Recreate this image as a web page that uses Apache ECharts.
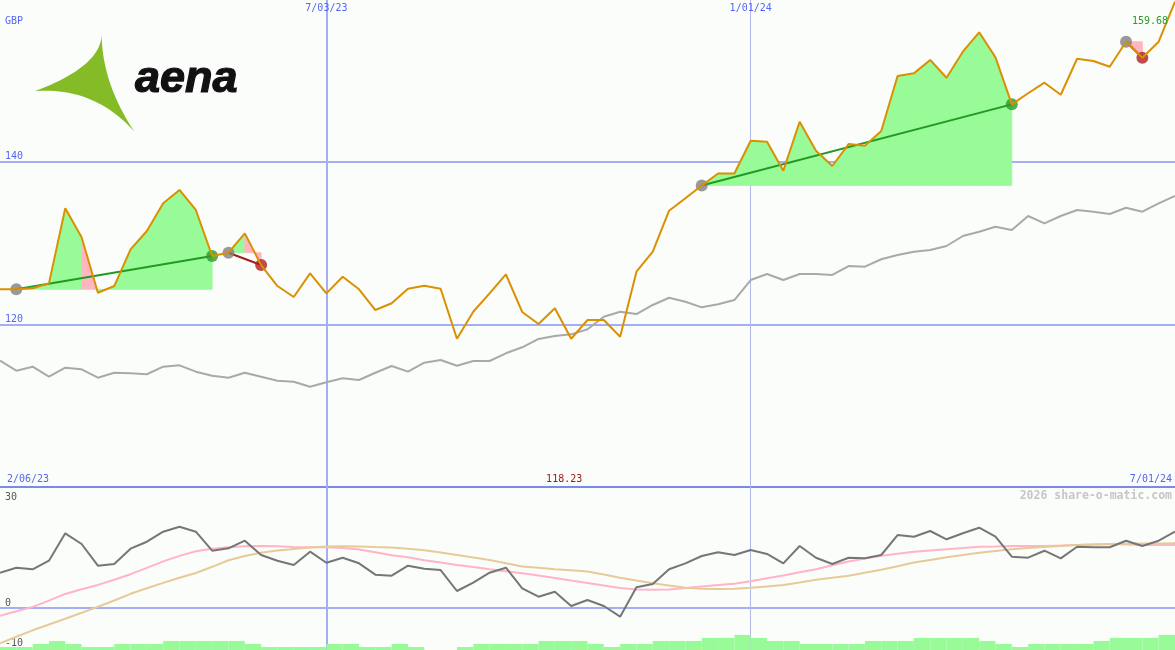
<!DOCTYPE html>
<html><head><meta charset="utf-8">
<script src="https://cdn.jsdelivr.net/npm/echarts@6/dist/echarts.min.js"></script>
<style>html,body{margin:0;padding:0;background:#fbfdfb;}#c{width:1175px;height:650px;}</style>
</head><body><div id="c"></div>
<script>
// ---- data (weekly, index 0..72) ----
const price = [124.31,124.31,124.43,125.04,134.27,130.70,123.89,124.71,129.22,131.48,
134.88,136.52,134.06,128.40,128.81,131.19,127.29,124.71,123.36,126.27,
123.81,125.86,124.31,121.76,122.59,124.38,124.75,124.38,118.23,121.55,
123.81,126.15,121.52,120.04,121.97,118.23,120.53,120.53,118.48,126.47,
128.93,133.97,135.50,137.07,138.54,138.54,142.58,142.45,138.89,144.91,
141.35,139.47,142.17,141.96,143.77,150.53,150.86,152.50,150.32,153.52,
155.91,152.83,147.05,148.41,149.71,148.23,152.66,152.38,151.68,154.75,
152.78,154.75,159.68];
const avg = [115.53,114.30,114.79,113.56,114.67,114.47,113.44,114.05,113.98,113.86,
114.79,114.96,114.18,113.68,113.44,114.05,113.56,113.07,112.95,112.33,
112.87,113.36,113.16,114.05,114.88,114.18,115.28,115.61,114.91,115.49,
115.49,116.44,117.18,118.20,118.57,118.77,119.39,120.94,121.55,121.27,
122.38,123.27,122.78,122.09,122.46,122.99,125.45,126.19,125.45,126.19,
126.19,126.07,127.17,127.09,128.00,128.52,128.93,129.14,129.63,130.86,
131.39,132.00,131.60,133.32,132.42,133.32,134.06,133.85,133.57,134.34,
133.85,134.88,135.78];
const osc = [9.72,11.11,10.67,13.06,20.67,17.69,11.67,12.14,16.39,18.33,
21.11,22.50,21.11,15.83,16.50,18.61,14.64,13.06,11.86,15.56,
12.50,13.89,12.33,9.17,8.89,11.67,10.83,10.47,4.64,6.94,
9.72,11.11,5.39,3.06,4.44,0.47,2.14,0.47,-2.50,5.67,
6.58,10.67,12.33,14.36,15.39,14.64,16.03,14.92,12.33,17.14,
13.89,12.14,13.89,13.72,14.64,20.19,19.72,21.31,19.00,20.67,
22.22,19.72,14.17,13.89,15.83,13.72,16.94,16.78,16.78,18.61,
17.14,18.61,21.11];
const oscPink = [-2.22,-1.00,0.22,1.97,3.83,5.11,6.33,7.78,9.31,11.06,
12.86,14.39,15.67,16.36,16.81,17.06,17.14,17.08,16.86,16.78,
16.78,16.61,16.14,15.39,14.58,14.00,13.19,12.53,11.86,11.28,
10.67,10.14,9.58,8.92,8.25,7.56,6.89,6.19,5.50,5.08,
4.97,5.08,5.47,5.89,6.28,6.67,7.33,8.17,8.97,9.83,
10.67,11.81,12.86,13.69,14.42,15.00,15.56,15.89,16.22,16.56,
16.94,17.03,17.14,17.14,17.14,17.25,17.39,17.53,17.67,17.58,
17.44,17.42,17.42];
const oscTan = [-9.89,-8.08,-6.28,-4.67,-3.08,-1.42,0.25,2.00,3.86,5.39,
6.89,8.31,9.64,11.36,13.19,14.36,15.25,15.86,16.33,16.69,
17.00,17.08,17.00,16.86,16.75,16.39,15.97,15.31,14.64,13.94,
13.25,12.36,11.42,11.11,10.69,10.39,10.06,9.25,8.33,7.53,
6.78,6.14,5.56,5.28,5.17,5.28,5.53,5.92,6.31,7.03,
7.78,8.31,8.89,9.72,10.56,11.53,12.53,13.28,14.00,14.61,
15.25,15.75,16.25,16.58,16.89,17.17,17.39,17.53,17.67,17.75,
17.81,17.83,17.89];
const volume = [1,1,2,3,2,1,1,2,2,2,
3,3,3,3,3,2,1,1,1,1,
2,2,1,1,2,1,0,0,1,2,
2,2,2,3,3,3,2,1,2,2,
3,3,3,4,4,5,4,3,3,2,
2,2,2,3,3,3,4,4,4,4,
3,2,1,2,2,2,2,3,4,4,
4,5];
const tradeEntry = [1, 14, 43, 69];
const tradeExit  = [13, 16, 62, 70];
const dateTickIdx = [20, 46];
const dateTickLabels = ['7/03/23', '1/01/24'];
const startLabel = '2/06/23';
const endLabel = '7/01/24';
const priceTicks = [120, 140];
const oscTicks = [30, 0, -10];
const currency = 'GBP';
const brand = 'aena';
const watermark = '2026 share-o-matic.com';

// ---- styles ----
const MONO = '"DejaVu Sans Mono", "Liberation Mono", monospace';
const GRID_C = '#a3aef5', SEP_C = '#7b89ec', LBL_C = '#5566ee', THIN_C = '#b2b9ea';
const GREEN_FILL = '#98fb98', PINK_FILL = '#ffb6c1';
const xMax = price.length - 1;

const chart = echarts.init(document.getElementById('c'), null, {width: 1175, height: 650});

const fillData = [];
const tradeSeries = [];
const entryPts = [], exitPts = [];
for (let t = 0; t < tradeEntry.length; t++) {
  const a = tradeEntry[t], b = tradeExit[t], base = price[a];
  for (let i = a; i < b; i++) fillData.push([i, price[i], i + 1, price[i + 1], base]);
  const win = price[b] >= base;
  tradeSeries.push({
    type: 'line', xAxisIndex: 0, yAxisIndex: 0, symbol: 'none', silent: true, z: 3,
    data: [[a, price[a]], [b, price[b]]],
    lineStyle: {color: win ? '#229a22' : '#a51c1c', width: 2}
  });
  entryPts.push([a, price[a]]);
  exitPts.push({value: [b, price[b]], itemStyle: {color: win ? '#2a9a2a' : '#b01e1e'}});
}
const idx = a => a.map((v, i) => [i, v]);

const vLineStyle = k => ({color: k === 0 ? GRID_C : THIN_C, width: k === 0 ? 2 : 1, type: 'solid'});
const oscLabelDist = {'30': -2.3, '0': -0.3, '-10': -4.3};

const option = {
  animation: false,
  backgroundColor: '#fbfdfb',
  grid: [
    {left: 0, right: 0, top: 0, height: 487},
    {left: 0, right: 0, top: 487, height: 163},
    {left: 0, right: 0, top: 487, height: 163}
  ],
  xAxis: [
    {type: 'value', gridIndex: 0, min: 0, max: xMax, show: true, position: 'bottom',
     axisLine: {show: true, onZero: false, lineStyle: {color: SEP_C, width: 2}},
     axisTick: {show: false}, axisLabel: {show: false}, splitLine: {show: false}},
    {type: 'value', gridIndex: 1, min: 0, max: xMax, show: false},
    {type: 'value', gridIndex: 2, min: 0, max: xMax, show: false}
  ],
  yAxis: [
    {type: 'value', gridIndex: 0, min: 100, max: 159.88, show: false},
    {type: 'value', gridIndex: 1, min: -11.75, max: 33.53, show: false},
    {type: 'value', gridIndex: 2, min: 0, max: 54, show: false}
  ],
  series: [
    {type: 'line', name: 'avg', xAxisIndex: 0, yAxisIndex: 0, data: idx(avg), symbol: 'none', silent: true, z: 2,
     lineStyle: {color: '#a9a9a9', width: 2},
     markLine: {
       z: 1, silent: true, symbol: 'none',
       label: {show: true, position: 'insideStartTop', distance: [5, 0], color: LBL_C, fontFamily: MONO, fontSize: 10,
               formatter: p => String(p.value)},
       lineStyle: {color: GRID_C, width: 2, type: 'solid'},
       data: priceTicks.map(v => ({yAxis: v}))
             .concat(dateTickIdx.map((d, k) => ({xAxis: d, label: {show: false}, lineStyle: vLineStyle(k)})))
     }},
    {type: 'custom', xAxisIndex: 0, yAxisIndex: 0, data: fillData, silent: true, z: 2,
     encode: {x: 0, y: 1},
     renderItem: (params, api) => {
       const p0 = api.coord([api.value(0), api.value(1)]);
       const p1 = api.coord([api.value(2), api.value(3)]);
       const p2 = api.coord([api.value(2), api.value(4)]);
       const p3 = api.coord([api.value(0), api.value(4)]);
       const c = api.value(3) >= api.value(4) ? GREEN_FILL : PINK_FILL;
       return {type: 'polygon', shape: {points: [p0, p1, p2, p3]},
               style: {fill: c, stroke: c, lineWidth: 0.8}};
     }},
    ...tradeSeries,
    {type: 'scatter', xAxisIndex: 0, yAxisIndex: 0, data: entryPts, symbolSize: 12, z: 3, silent: true,
     itemStyle: {color: '#808080'}},
    {type: 'scatter', xAxisIndex: 0, yAxisIndex: 0, data: exitPts, symbolSize: 12, z: 3, silent: true},
    {type: 'line', name: 'price', xAxisIndex: 0, yAxisIndex: 0, data: idx(price), symbol: 'none', silent: true, z: 4,
     lineStyle: {color: '#da9000', width: 2}},
    // lower panel
    {type: 'line', xAxisIndex: 1, yAxisIndex: 1, data: idx(oscPink), symbol: 'none', silent: true, z: 2,
     lineStyle: {color: '#ffb4c8', width: 2},
     markLine: {
       z: 1, silent: true, symbol: 'none',
       label: {show: true, position: 'insideStartTop', color: '#555555', fontFamily: MONO, fontSize: 10,
               formatter: p => String(p.value)},
       lineStyle: {color: GRID_C, width: 2, type: 'solid'},
       data: oscTicks.map(v => ({
               yAxis: v,
               label: {distance: [5, oscLabelDist[String(v)]]},
               lineStyle: v === 0 ? {color: GRID_C, width: 2} : {color: 'rgba(0,0,0,0)', width: 2}
             }))
             .concat(dateTickIdx.map((d, k) => ({xAxis: d, label: {show: false}, lineStyle: vLineStyle(k)})))
     }},
    {type: 'line', xAxisIndex: 1, yAxisIndex: 1, data: idx(oscTan), symbol: 'none', silent: true, z: 2,
     lineStyle: {color: '#e6cb98', width: 2}},
    {type: 'line', xAxisIndex: 1, yAxisIndex: 1, data: idx(osc), symbol: 'none', silent: true, z: 3,
     lineStyle: {color: '#767676', width: 2}},
    {type: 'custom', xAxisIndex: 2, yAxisIndex: 2, data: idx(volume), silent: true, z: 2,
     encode: {x: 0, y: 1},
     renderItem: (params, api) => {
       const i = api.value(0), v = api.value(1);
       const tl = api.coord([i, v]);
       const br = api.coord([i + 1, 0]);
       return {type: 'rect', shape: {x: tl[0], y: tl[1], width: br[0] - tl[0], height: br[1] - tl[1]},
               style: {fill: GREEN_FILL, stroke: null}};
     }}
  ]
};
chart.setOption(option);

// ---- labels placed through the axis scales ----
const xPix = v => chart.convertToPixel({xAxisIndex: 0}, v);
const minVal = Math.min(...price);
const minIdx = price.lastIndexOf(minVal);
const lastVal = price[price.length - 1];
const txt = (text, x, y, align, fill, font, extra) => ({
  type: 'text', x: x, y: y, silent: true, z: 10,
  style: Object.assign({text: text, fill: fill, font: font || ('10px ' + MONO), align: align, textAlign: align, verticalAlign: 'middle', textVerticalAlign: 'middle'}, extra || {})
});
const graphics = [];
dateTickIdx.forEach((d, k) => graphics.push(txt(dateTickLabels[k], xPix(d), 8, 'center', LBL_C)));
graphics.push(txt(currency, 5, 21, 'left', LBL_C));
graphics.push(txt(lastVal.toFixed(2), 1168, 21, 'right', '#2a9a2a'));
graphics.push(txt(startLabel, 7, 479, 'left', LBL_C));
graphics.push(txt(minVal.toFixed(2), xPix(minIdx) - 7, 479, 'center', '#a01818'));
graphics.push(txt(endLabel, 1172, 479, 'right', LBL_C));
graphics.push(txt(watermark, 1172, 496, 'right', '#c6c6c6', 'bold 11.5px ' + MONO));
// logo: curved triangle built from three quadratic curves
function quad(p0, c, p1, n) {
  const out = [];
  for (let k = 0; k < n; k++) {
    const t = k / n, u = 1 - t;
    out.push([u * u * p0[0] + 2 * u * t * c[0] + t * t * p1[0], u * u * p0[1] + 2 * u * t * c[1] + t * t * p1[1]]);
  }
  return out;
}
const A = [101.7, 35], B = [35, 91], C = [134.3, 131.7];
const logoPts = quad(A, [100, 67], B, 24).concat(quad(B, [95, 87], C, 24)).concat(quad(C, [102, 82.5], A, 24));
graphics.push({type: 'polygon', silent: true, z: 10, shape: {points: logoPts}, style: {fill: '#84bb26'}});
graphics.push(txt(brand, 135, 80, 'left', '#111111', 'italic bold 45px "Liberation Sans", Arial, sans-serif',
                  {stroke: '#111111', lineWidth: 1.2}));
chart.setOption({graphic: graphics});
</script>
</body></html>
